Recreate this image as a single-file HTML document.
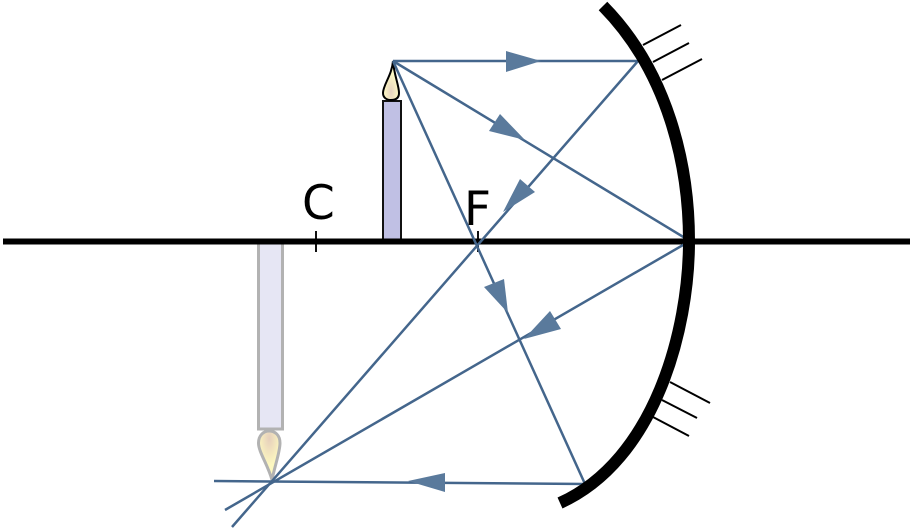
<!DOCTYPE html>
<html>
<head>
<meta charset="utf-8">
<style>
html,body{margin:0;padding:0;background:#fff;width:913px;height:529px;overflow:hidden}
svg{display:block}
text{font-family:"DejaVu Sans",sans-serif;font-size:47px;fill:#000}
</style>
</head>
<body>
<svg width="913" height="529" viewBox="0 0 913 529" xmlns="http://www.w3.org/2000/svg">
<defs>
<radialGradient id="f1" cx="50%" cy="78%" r="45%">
<stop offset="0" stop-color="#e6d2c0"/>
<stop offset="1" stop-color="#fdf8c4"/>
</radialGradient>
<radialGradient id="f2" cx="50%" cy="15%" r="55%">
<stop offset="0" stop-color="#e6cfbc"/>
<stop offset="1" stop-color="#fdf8c0"/>
</radialGradient>
</defs>

<!-- inverted image candle -->
<rect x="258.500" y="243" width="24" height="186" fill="#e6e6f4" stroke="#b2b2b2" stroke-width="3"/>
<path d="M272,480 C268,465 258.500,452 258.500,443 C258.500,435 264,431 269,431 C275,431 280,435 280,443 C280,452 275,465 272,480 Z" fill="url(#f2)" stroke="#b2b2b2" stroke-width="3"/>

<!-- real candle -->
<rect x="383" y="101" width="18" height="140" fill="#c0c0e4" stroke="#111" stroke-width="2"/>
<path d="M393,61 C392,75 383,85 383,93 C383,98 387,100 391,100 C396,100 399,98 399,93 C399,85 394,75 393,61 Z" fill="url(#f1)" stroke="#000" stroke-width="2"/>

<!-- ticks -->
<path d="M316,231V252M478,231V252" stroke="#111" stroke-width="2" fill="none"/>

<!-- axis -->
<line x1="3" y1="241.500" x2="910" y2="241.500" stroke="#000" stroke-width="6"/>

<!-- mirror hatches -->
<g stroke="#000" stroke-width="2" fill="none">
<line x1="643" y1="45" x2="681" y2="25"/>
<line x1="653" y1="62" x2="689" y2="43"/>
<line x1="662" y1="80" x2="702" y2="59"/>
<line x1="670" y1="382" x2="710" y2="403"/>
<line x1="662" y1="400" x2="697" y2="418"/>
<line x1="653" y1="417" x2="689" y2="436"/>
</g>

<!-- rays -->
<g stroke="#44668c" stroke-width="2.500" fill="none">
<polyline points="393,61 638,61 232,527"/>
<polyline points="393,61 690,241 225,510"/>
<polyline points="393,61 585,484 214,481"/>
</g>

<!-- mirror -->
<path d="M603,6 C668,72 689,165 689,241 C689,330 655,460 560,503" fill="none" stroke="#000" stroke-width="12"/>

<!-- arrowheads -->
<g fill="#5a7a9c">
<polygon points="506,51 541,61 506,72"/>
<polygon points="500,114 489,131 525,140"/>
<polygon points="520,179 535,192 503,212"/>
<polygon points="484,287 504,279 508,313"/>
<polygon points="550,311 561,329 524,339"/>
<polygon points="408,481 445,473 445,492"/>
</g>

<text x="302" y="219">C</text>
<text x="464" y="225">F</text>
</svg>
</body>
</html>
